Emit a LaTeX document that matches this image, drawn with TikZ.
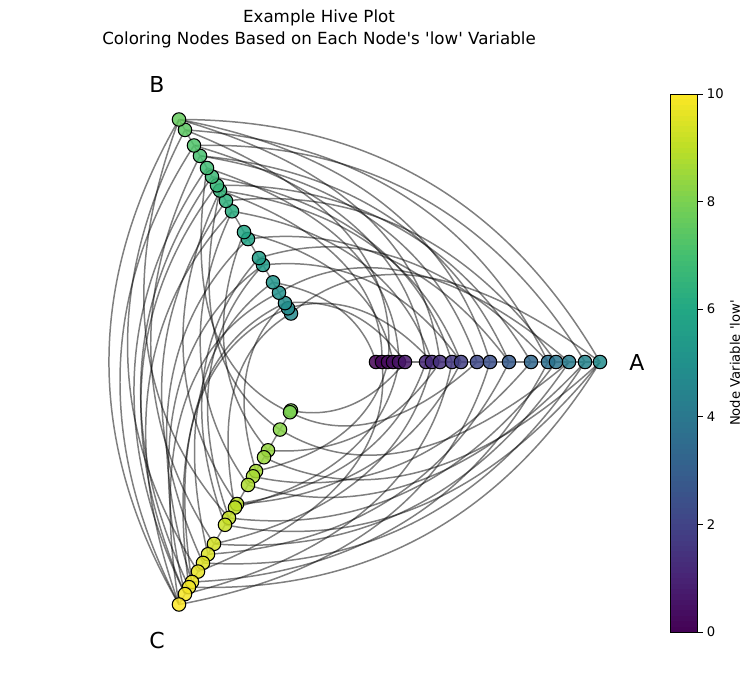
\documentclass[tikz,border=0pt]{standalone}
\usepackage{fontspec}
\setmainfont{DejaVu Sans}
\usetikzlibrary{calc,backgrounds}

\definecolor{vir0}{RGB}{68,1,84}
\definecolor{vir1}{RGB}{72,36,117}
\definecolor{vir2}{RGB}{65,68,135}
\definecolor{vir3}{RGB}{53,95,141}
\definecolor{vir4}{RGB}{42,120,142}
\definecolor{vir5}{RGB}{33,145,140}
\definecolor{vir6}{RGB}{34,168,132}
\definecolor{vir7}{RGB}{68,191,112}
\definecolor{vir8}{RGB}{122,209,81}
\definecolor{vir9}{RGB}{189,223,38}
\definecolor{vir10}{RGB}{253,231,37}

% viridis colour for a value in 0..10
\newcommand\setvir[1]{%
  \pgfmathsetmacro\vv{min(max(#1,0),9.999)}%
  \pgfmathtruncatemacro\vlo{int(\vv)}%
  \pgfmathtruncatemacro\vhi{\vlo+1}%
  \pgfmathtruncatemacro\vpct{round(100*(\vhi-\vv))}%
  \colorlet{vc}{vir\vlo!\vpct!vir\vhi}}

% hive edge from #1 to #2, bending towards angle #3
\newcommand\hiveedge[3]{%
  \path let \p1=(#1.center), \p2=(#2.center),
    \n1={(veclen(\x1,\y1)+veclen(\x2,\y2))/2} in coordinate (k) at (#3:\n1);
  \draw[edge] (#1.center) .. controls ($(#1.center)!0.667!(k)$) and ($(#2.center)!0.667!(k)$) .. (#2.center);}

\newcommand\q{\textquotesingle}

\begin{document}
\begin{tikzpicture}[x=0.02cm,y=0.02cm,
  hnode/.style={circle,draw=black,line width=0.6pt,minimum size=0.27cm,inner sep=0pt,fill opacity=0.85},
  edge/.style={draw=black,draw opacity=0.5,line width=0.85pt},
  axis/.style={draw=gray,line width=0.8pt}]
  \useasboundingbox (-319,-321) rectangle (433,362);

  \node (t) at (0,344) {\fontsize{9.5}{11}\selectfont Example Hive Plot};
  \node at (0,322) {\fontsize{9.5}{11}\selectfont Coloring Nodes Based on Each Node\q s \q low\q{} Variable};

  \node (A) at (318,0) {\fontsize{12.5}{14}\selectfont A};
  \node (B) at (-162,278) {\fontsize{12.5}{14}\selectfont B};
  \node (C) at (-162,-279) {\fontsize{12.5}{14}\selectfont C};

  % axes
  \draw[axis] (0:56) -- (0:281);
  \draw[axis] (120:56) -- (120:280);
  \draw[axis] (240:56) -- (240:280);

  % nodes
  \foreach \r [count=\i] in {57,63,69,74,80,86,107,113,121,133,142,158,171,190,212,229,237,250,266,281} {
    \setvir{(\r-56)/225*4.8}
    \node[hnode,fill=vc] (a\i) at (0:\r) {};
  }
  \foreach \r [count=\i] in {56,62,68,80,92,112,120,142,150,174,186,198,204,214,224,238,250,268,280} {
    \setvir{4.7+(\r-56)/224*2.9}
    \node[hnode,fill=vc] (b\i) at (120:\r) {};
  }
  \foreach \r [count=\i] in {56,58,78,102,110,126,132,142,164,168,180,188,210,222,232,242,254,260,268,280} {
    \setvir{8+(\r-56)/224*2}
    \node[hnode,fill=vc] (c\i) at (240:\r) {};
  }

  % edges
  \begin{scope}[on background layer]
    \foreach \i/\j in {1/5,2/12,3/18,4/9,5/15,6/3,7/17,8/10,9/19,10/14,11/6,12/16,13/19,14/8,15/13,
                       16/18,17/11,18/4,19/17,20/19,20/1,14/16,8/2,11/12,16/7}
      {\hiveedge{a\i}{b\j}{60}}
    \foreach \i/\j in {1/10,2/18,3/6,4/20,5/14,6/19,7/12,8/17,9/4,10/20,11/15,12/9,13/19,14/18,15/2,
                       16/13,17/20,18/16,19/11,19/20,3/17,12/3,10/8,6/11,15/19}
      {\hiveedge{b\i}{c\j}{180}}
    \foreach \i/\j in {1/6,2/12,3/18,4/9,5/20,6/3,7/15,8/19,9/11,10/5,11/17,12/20,13/8,14/14,15/19,
                       16/2,17/16,18/20,19/10,20/13,9/7,13/18}
      {\hiveedge{c\i}{a\j}{300}}
  \end{scope}

  % colour bar
  \foreach \k in {0,...,99} {
    \setvir{\k/10+0.05}
    \fill[vc] (351,{-270+\k*5.38}) rectangle (378,{-270+(\k+1)*5.38+0.3});
  }
  \draw[line width=0.5pt] (351,-270) rectangle (378,268);
  \foreach \v in {0,2,...,10} {
    \draw[line width=0.5pt] (378,{-270+\v*53.8}) -- (384,{-270+\v*53.8})
      node[right,inner sep=2pt] {\fontsize{7.5}{9}\selectfont \v};
  }
  \node[rotate=90] (cb) at (416,-1) {\fontsize{7.5}{9}\selectfont Node Variable \q low\q};
\end{tikzpicture}
\end{document}
